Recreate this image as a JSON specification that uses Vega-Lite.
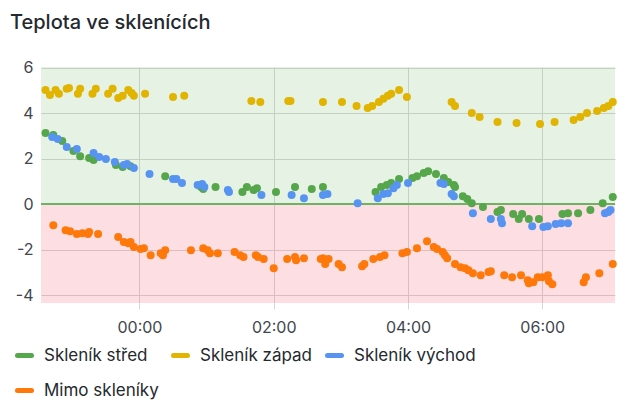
{
  "$schema": "https://vega.github.io/schema/vega-lite/v6.json",
  "width": 574,
  "height": 236,
  "autosize": {"type": "none"},
  "padding": {"left": 41, "top": 67, "right": 3, "bottom": 100},
  "background": "#ffffff",
  "title": {"text": "Teplota ve sklenících", "anchor": "start", "frame": "group", "dx": -31, "offset": 27, "font": "Inter", "fontSize": 20, "fontWeight": 500, "color": "#24292e"},
  "config": {
    "view": {"stroke": null},
    "axis": {"labelFont": "Inter", "labelFontSize": 16, "labelColor": "#41464d", "gridColor": "#d6d6d6", "domain": false, "titleFont": "Inter"},
    "legend": {"labelFont": "Inter", "labelFontSize": 17, "labelColor": "#24292e"}
  },
  "layer": [
    {
      "data": {"values": [{"zone": "nad nulou", "lo": 0, "hi": 6.03}, {"zone": "pod nulou", "lo": -4.35, "hi": 0}]},
      "mark": {"type": "rect", "opacity": 0.18},
      "encoding": {
        "y": {"field": "lo", "type": "quantitative", "scale": {"domain": [-4.35, 6.03], "nice": false, "zero": false}, "axis": {"values": [-4, -2, 0, 2, 4, 6], "title": null, "ticks": false, "labelPadding": 8, "labelExpr": "replace(datum.label, '\u2212', '-')"}},
        "y2": {"field": "hi"},
        "fill": {"field": "zone", "type": "nominal", "scale": {"domain": ["nad nulou", "pod nulou"], "range": ["#73BF69", "#F2495C"]}, "legend": null}
      }
    },
    {
      "data": {"values": [{"v": 0}]},
      "mark": {"type": "rule", "color": "#6fb263", "strokeWidth": 2},
      "encoding": {"y": {"field": "v", "type": "quantitative"}}
    },
    {
      "data": {"values": [
        {"t":"2024-03-10T22:36","s":"Skleník západ","v":5.02},
        {"t":"2024-03-10T22:40","s":"Skleník západ","v":4.80},
        {"t":"2024-03-10T22:45","s":"Skleník západ","v":5.02},
        {"t":"2024-03-10T22:48","s":"Skleník západ","v":4.85},
        {"t":"2024-03-10T22:55","s":"Skleník západ","v":5.07},
        {"t":"2024-03-10T22:57","s":"Skleník západ","v":5.11},
        {"t":"2024-03-10T23:05","s":"Skleník západ","v":4.85},
        {"t":"2024-03-10T23:07","s":"Skleník západ","v":5.07},
        {"t":"2024-03-10T23:18","s":"Skleník západ","v":4.85},
        {"t":"2024-03-10T23:21","s":"Skleník západ","v":5.07},
        {"t":"2024-03-10T23:32","s":"Skleník západ","v":4.85},
        {"t":"2024-03-10T23:36","s":"Skleník západ","v":5.07},
        {"t":"2024-03-10T23:41","s":"Skleník západ","v":4.67},
        {"t":"2024-03-10T23:45","s":"Skleník západ","v":4.76},
        {"t":"2024-03-10T23:50","s":"Skleník západ","v":5.02},
        {"t":"2024-03-10T23:53","s":"Skleník západ","v":4.89},
        {"t":"2024-03-10T23:55","s":"Skleník západ","v":4.76},
        {"t":"2024-03-11T00:05","s":"Skleník západ","v":4.85},
        {"t":"2024-03-11T00:30","s":"Skleník západ","v":4.71},
        {"t":"2024-03-11T00:40","s":"Skleník západ","v":4.76},
        {"t":"2024-03-11T01:40","s":"Skleník západ","v":4.54},
        {"t":"2024-03-11T01:48","s":"Skleník západ","v":4.49},
        {"t":"2024-03-11T02:13","s":"Skleník západ","v":4.54},
        {"t":"2024-03-11T02:15","s":"Skleník západ","v":4.54},
        {"t":"2024-03-11T02:44","s":"Skleník západ","v":4.49},
        {"t":"2024-03-11T03:01","s":"Skleník západ","v":4.49},
        {"t":"2024-03-11T03:14","s":"Skleník západ","v":4.32},
        {"t":"2024-03-11T03:24","s":"Skleník západ","v":4.23},
        {"t":"2024-03-11T03:28","s":"Skleník západ","v":4.32},
        {"t":"2024-03-11T03:34","s":"Skleník západ","v":4.49},
        {"t":"2024-03-11T03:38","s":"Skleník západ","v":4.63},
        {"t":"2024-03-11T03:42","s":"Skleník západ","v":4.76},
        {"t":"2024-03-11T03:45","s":"Skleník západ","v":4.85},
        {"t":"2024-03-11T03:52","s":"Skleník západ","v":5.02},
        {"t":"2024-03-11T03:59","s":"Skleník západ","v":4.71},
        {"t":"2024-03-11T04:39","s":"Skleník západ","v":4.49},
        {"t":"2024-03-11T04:42","s":"Skleník západ","v":4.32},
        {"t":"2024-03-11T04:57","s":"Skleník západ","v":4.01},
        {"t":"2024-03-11T05:04","s":"Skleník západ","v":3.83},
        {"t":"2024-03-11T05:20","s":"Skleník západ","v":3.61},
        {"t":"2024-03-11T05:37","s":"Skleník západ","v":3.57},
        {"t":"2024-03-11T05:58","s":"Skleník západ","v":3.52},
        {"t":"2024-03-11T06:11","s":"Skleník západ","v":3.61},
        {"t":"2024-03-11T06:28","s":"Skleník západ","v":3.70},
        {"t":"2024-03-11T06:34","s":"Skleník západ","v":3.83},
        {"t":"2024-03-11T06:40","s":"Skleník západ","v":4.01},
        {"t":"2024-03-11T06:49","s":"Skleník západ","v":4.10},
        {"t":"2024-03-11T06:55","s":"Skleník západ","v":4.23},
        {"t":"2024-03-11T06:59","s":"Skleník západ","v":4.32},
        {"t":"2024-03-11T07:03","s":"Skleník západ","v":4.49},

        {"t":"2024-03-10T22:36","s":"Skleník střed","v":3.13},
        {"t":"2024-03-10T22:43","s":"Skleník střed","v":3.04},
        {"t":"2024-03-10T22:51","s":"Skleník střed","v":2.78},
        {"t":"2024-03-10T23:01","s":"Skleník střed","v":2.33},
        {"t":"2024-03-10T23:07","s":"Skleník střed","v":2.11},
        {"t":"2024-03-10T23:15","s":"Skleník střed","v":2.03},
        {"t":"2024-03-10T23:19","s":"Skleník střed","v":1.94},
        {"t":"2024-03-10T23:39","s":"Skleník střed","v":1.72},
        {"t":"2024-03-10T23:45","s":"Skleník střed","v":1.63},
        {"t":"2024-03-10T23:52","s":"Skleník střed","v":1.67},
        {"t":"2024-03-11T00:23","s":"Skleník střed","v":1.23},
        {"t":"2024-03-11T00:55","s":"Skleník střed","v":0.75},
        {"t":"2024-03-11T00:57","s":"Skleník střed","v":0.66},
        {"t":"2024-03-11T01:08","s":"Skleník střed","v":0.75},
        {"t":"2024-03-11T01:32","s":"Skleník střed","v":0.53},
        {"t":"2024-03-11T01:36","s":"Skleník střed","v":0.75},
        {"t":"2024-03-11T01:42","s":"Skleník střed","v":0.62},
        {"t":"2024-03-11T01:45","s":"Skleník střed","v":0.70},
        {"t":"2024-03-11T02:02","s":"Skleník střed","v":0.53},
        {"t":"2024-03-11T02:19","s":"Skleník střed","v":0.75},
        {"t":"2024-03-11T02:34","s":"Skleník střed","v":0.66},
        {"t":"2024-03-11T02:44","s":"Skleník střed","v":0.75},
        {"t":"2024-03-11T03:31","s":"Skleník střed","v":0.53},
        {"t":"2024-03-11T03:36","s":"Skleník střed","v":0.75},
        {"t":"2024-03-11T03:41","s":"Skleník střed","v":0.84},
        {"t":"2024-03-11T03:45","s":"Skleník střed","v":0.93},
        {"t":"2024-03-11T03:52","s":"Skleník střed","v":1.10},
        {"t":"2024-03-11T04:04","s":"Skleník střed","v":1.15},
        {"t":"2024-03-11T04:08","s":"Skleník střed","v":1.23},
        {"t":"2024-03-11T04:14","s":"Skleník střed","v":1.37},
        {"t":"2024-03-11T04:18","s":"Skleník střed","v":1.45},
        {"t":"2024-03-11T04:25","s":"Skleník střed","v":1.32},
        {"t":"2024-03-11T04:32","s":"Skleník střed","v":1.15},
        {"t":"2024-03-11T04:36","s":"Skleník střed","v":0.97},
        {"t":"2024-03-11T04:41","s":"Skleník střed","v":0.84},
        {"t":"2024-03-11T04:42","s":"Skleník střed","v":0.75},
        {"t":"2024-03-11T04:49","s":"Skleník střed","v":0.35},
        {"t":"2024-03-11T04:53","s":"Skleník střed","v":0.22},
        {"t":"2024-03-11T04:57","s":"Skleník střed","v":0.04},
        {"t":"2024-03-11T05:07","s":"Skleník střed","v":-0.13},
        {"t":"2024-03-11T05:20","s":"Skleník střed","v":-0.35},
        {"t":"2024-03-11T05:23","s":"Skleník střed","v":-0.26},
        {"t":"2024-03-11T05:34","s":"Skleník střed","v":-0.44},
        {"t":"2024-03-11T05:39","s":"Skleník střed","v":-0.66},
        {"t":"2024-03-11T05:42","s":"Skleník střed","v":-0.44},
        {"t":"2024-03-11T05:48","s":"Skleník střed","v":-0.66},
        {"t":"2024-03-11T05:57","s":"Skleník střed","v":-0.66},
        {"t":"2024-03-11T06:18","s":"Skleník střed","v":-0.44},
        {"t":"2024-03-11T06:23","s":"Skleník střed","v":-0.40},
        {"t":"2024-03-11T06:32","s":"Skleník střed","v":-0.40},
        {"t":"2024-03-11T06:43","s":"Skleník střed","v":-0.26},
        {"t":"2024-03-11T06:54","s":"Skleník střed","v":0.04},
        {"t":"2024-03-11T07:03","s":"Skleník střed","v":0.31},

        {"t":"2024-03-10T22:42","s":"Skleník východ","v":2.95},
        {"t":"2024-03-10T22:47","s":"Skleník východ","v":2.86},
        {"t":"2024-03-10T22:55","s":"Skleník východ","v":2.51},
        {"t":"2024-03-10T23:04","s":"Skleník východ","v":2.42},
        {"t":"2024-03-10T23:19","s":"Skleník východ","v":2.25},
        {"t":"2024-03-10T23:24","s":"Skleník východ","v":2.07},
        {"t":"2024-03-10T23:30","s":"Skleník východ","v":1.98},
        {"t":"2024-03-10T23:38","s":"Skleník východ","v":1.85},
        {"t":"2024-03-10T23:46","s":"Skleník východ","v":1.72},
        {"t":"2024-03-10T23:49","s":"Skleník východ","v":1.76},
        {"t":"2024-03-10T23:55","s":"Skleník východ","v":1.59},
        {"t":"2024-03-11T00:09","s":"Skleník východ","v":1.32},
        {"t":"2024-03-11T00:30","s":"Skleník východ","v":1.10},
        {"t":"2024-03-11T00:33","s":"Skleník východ","v":1.10},
        {"t":"2024-03-11T00:38","s":"Skleník východ","v":0.93},
        {"t":"2024-03-11T00:52","s":"Skleník východ","v":0.84},
        {"t":"2024-03-11T00:56","s":"Skleník východ","v":0.88},
        {"t":"2024-03-11T00:58","s":"Skleník východ","v":0.75},
        {"t":"2024-03-11T01:19","s":"Skleník východ","v":0.62},
        {"t":"2024-03-11T01:20","s":"Skleník východ","v":0.53},
        {"t":"2024-03-11T01:49","s":"Skleník východ","v":0.40},
        {"t":"2024-03-11T02:16","s":"Skleník východ","v":0.40},
        {"t":"2024-03-11T02:27","s":"Skleník východ","v":0.26},
        {"t":"2024-03-11T02:44","s":"Skleník východ","v":0.40},
        {"t":"2024-03-11T02:48","s":"Skleník východ","v":0.44},
        {"t":"2024-03-11T03:15","s":"Skleník východ","v":0.04},
        {"t":"2024-03-11T03:33","s":"Skleník východ","v":0.26},
        {"t":"2024-03-11T03:38","s":"Skleník východ","v":0.44},
        {"t":"2024-03-11T03:42","s":"Skleník východ","v":0.48},
        {"t":"2024-03-11T03:47","s":"Skleník východ","v":0.70},
        {"t":"2024-03-11T03:50","s":"Skleník východ","v":0.84},
        {"t":"2024-03-11T04:00","s":"Skleník východ","v":0.93},
        {"t":"2024-03-11T04:29","s":"Skleník východ","v":0.93},
        {"t":"2024-03-11T04:32","s":"Skleník východ","v":0.88},
        {"t":"2024-03-11T04:39","s":"Skleník východ","v":0.44},
        {"t":"2024-03-11T04:41","s":"Skleník východ","v":0.35},
        {"t":"2024-03-11T04:58","s":"Skleník východ","v":-0.40},
        {"t":"2024-03-11T05:14","s":"Skleník východ","v":-0.66},
        {"t":"2024-03-11T05:23","s":"Skleník východ","v":-0.66},
        {"t":"2024-03-11T05:24","s":"Skleník východ","v":-0.84},
        {"t":"2024-03-11T05:51","s":"Skleník východ","v":-0.97},
        {"t":"2024-03-11T06:01","s":"Skleník východ","v":-1.01},
        {"t":"2024-03-11T06:05","s":"Skleník východ","v":-0.97},
        {"t":"2024-03-11T06:12","s":"Skleník východ","v":-0.88},
        {"t":"2024-03-11T06:17","s":"Skleník východ","v":-0.84},
        {"t":"2024-03-11T06:23","s":"Skleník východ","v":-0.84},
        {"t":"2024-03-11T06:56","s":"Skleník východ","v":-0.40},
        {"t":"2024-03-11T06:59","s":"Skleník východ","v":-0.35},
        {"t":"2024-03-11T07:01","s":"Skleník východ","v":-0.26},

        {"t":"2024-03-10T22:43","s":"Mimo skleníky","v":-0.93},
        {"t":"2024-03-10T22:54","s":"Mimo skleníky","v":-1.15},
        {"t":"2024-03-10T22:58","s":"Mimo skleníky","v":-1.19},
        {"t":"2024-03-10T23:04","s":"Mimo skleníky","v":-1.32},
        {"t":"2024-03-10T23:09","s":"Mimo skleníky","v":-1.28},
        {"t":"2024-03-10T23:14","s":"Mimo skleníky","v":-1.32},
        {"t":"2024-03-10T23:15","s":"Mimo skleníky","v":-1.23},
        {"t":"2024-03-10T23:23","s":"Mimo skleníky","v":-1.32},
        {"t":"2024-03-10T23:41","s":"Mimo skleníky","v":-1.45},
        {"t":"2024-03-10T23:46","s":"Mimo skleníky","v":-1.67},
        {"t":"2024-03-10T23:50","s":"Mimo skleníky","v":-1.72},
        {"t":"2024-03-10T23:52","s":"Mimo skleníky","v":-1.67},
        {"t":"2024-03-10T23:55","s":"Mimo skleníky","v":-1.89},
        {"t":"2024-03-11T00:01","s":"Mimo skleníky","v":-1.98},
        {"t":"2024-03-11T00:04","s":"Mimo skleníky","v":-1.94},
        {"t":"2024-03-11T00:10","s":"Mimo skleníky","v":-2.25},
        {"t":"2024-03-11T00:19","s":"Mimo skleníky","v":-2.16},
        {"t":"2024-03-11T00:21","s":"Mimo skleníky","v":-2.25},
        {"t":"2024-03-11T00:23","s":"Mimo skleníky","v":-2.03},
        {"t":"2024-03-11T00:46","s":"Mimo skleníky","v":-2.03},
        {"t":"2024-03-11T00:57","s":"Mimo skleníky","v":-1.94},
        {"t":"2024-03-11T01:01","s":"Mimo skleníky","v":-2.03},
        {"t":"2024-03-11T01:03","s":"Mimo skleníky","v":-2.16},
        {"t":"2024-03-11T01:10","s":"Mimo skleníky","v":-2.16},
        {"t":"2024-03-11T01:25","s":"Mimo skleníky","v":-2.11},
        {"t":"2024-03-11T01:30","s":"Mimo skleníky","v":-2.25},
        {"t":"2024-03-11T01:33","s":"Mimo skleníky","v":-2.33},
        {"t":"2024-03-11T01:44","s":"Mimo skleníky","v":-2.25},
        {"t":"2024-03-11T01:46","s":"Mimo skleníky","v":-2.33},
        {"t":"2024-03-11T01:51","s":"Mimo skleníky","v":-2.42},
        {"t":"2024-03-11T02:00","s":"Mimo skleníky","v":-2.82},
        {"t":"2024-03-11T02:12","s":"Mimo skleníky","v":-2.42},
        {"t":"2024-03-11T02:19","s":"Mimo skleníky","v":-2.33},
        {"t":"2024-03-11T02:20","s":"Mimo skleníky","v":-2.47},
        {"t":"2024-03-11T02:27","s":"Mimo skleníky","v":-2.38},
        {"t":"2024-03-11T02:42","s":"Mimo skleníky","v":-2.42},
        {"t":"2024-03-11T02:44","s":"Mimo skleníky","v":-2.38},
        {"t":"2024-03-11T02:46","s":"Mimo skleníky","v":-2.64},
        {"t":"2024-03-11T02:49","s":"Mimo skleníky","v":-2.42},
        {"t":"2024-03-11T02:58","s":"Mimo skleníky","v":-2.64},
        {"t":"2024-03-11T03:01","s":"Mimo skleníky","v":-2.78},
        {"t":"2024-03-11T03:19","s":"Mimo skleníky","v":-2.73},
        {"t":"2024-03-11T03:21","s":"Mimo skleníky","v":-2.64},
        {"t":"2024-03-11T03:29","s":"Mimo skleníky","v":-2.42},
        {"t":"2024-03-11T03:35","s":"Mimo skleníky","v":-2.33},
        {"t":"2024-03-11T03:39","s":"Mimo skleníky","v":-2.25},
        {"t":"2024-03-11T03:55","s":"Mimo skleníky","v":-2.16},
        {"t":"2024-03-11T03:59","s":"Mimo skleníky","v":-2.11},
        {"t":"2024-03-11T04:08","s":"Mimo skleníky","v":-1.94},
        {"t":"2024-03-11T04:17","s":"Mimo skleníky","v":-1.63},
        {"t":"2024-03-11T04:23","s":"Mimo skleníky","v":-1.89},
        {"t":"2024-03-11T04:26","s":"Mimo skleníky","v":-1.98},
        {"t":"2024-03-11T04:31","s":"Mimo skleníky","v":-2.11},
        {"t":"2024-03-11T04:33","s":"Mimo skleníky","v":-2.25},
        {"t":"2024-03-11T04:35","s":"Mimo skleníky","v":-2.38},
        {"t":"2024-03-11T04:42","s":"Mimo skleníky","v":-2.64},
        {"t":"2024-03-11T04:47","s":"Mimo skleníky","v":-2.78},
        {"t":"2024-03-11T04:51","s":"Mimo skleníky","v":-2.82},
        {"t":"2024-03-11T04:54","s":"Mimo skleníky","v":-2.91},
        {"t":"2024-03-11T04:58","s":"Mimo skleníky","v":-3.04},
        {"t":"2024-03-11T05:05","s":"Mimo skleníky","v":-3.13},
        {"t":"2024-03-11T05:12","s":"Mimo skleníky","v":-2.99},
        {"t":"2024-03-11T05:14","s":"Mimo skleníky","v":-2.95},
        {"t":"2024-03-11T05:26","s":"Mimo skleníky","v":-3.13},
        {"t":"2024-03-11T05:33","s":"Mimo skleníky","v":-3.22},
        {"t":"2024-03-11T05:41","s":"Mimo skleníky","v":-3.13},
        {"t":"2024-03-11T05:47","s":"Mimo skleníky","v":-3.35},
        {"t":"2024-03-11T05:48","s":"Mimo skleníky","v":-3.48},
        {"t":"2024-03-11T05:52","s":"Mimo skleníky","v":-3.44},
        {"t":"2024-03-11T05:56","s":"Mimo skleníky","v":-3.22},
        {"t":"2024-03-11T06:00","s":"Mimo skleníky","v":-3.22},
        {"t":"2024-03-11T06:05","s":"Mimo skleníky","v":-3.13},
        {"t":"2024-03-11T06:06","s":"Mimo skleníky","v":-3.39},
        {"t":"2024-03-11T06:09","s":"Mimo skleníky","v":-3.52},
        {"t":"2024-03-11T06:37","s":"Mimo skleníky","v":-3.44},
        {"t":"2024-03-11T06:39","s":"Mimo skleníky","v":-3.22},
        {"t":"2024-03-11T06:51","s":"Mimo skleníky","v":-3.04},
        {"t":"2024-03-11T07:03","s":"Mimo skleníky","v":-2.64}
      ]},
      "mark": {"type": "point", "filled": true, "opacity": 1, "size": 64},
      "encoding": {
        "x": {"field": "t", "type": "temporal",
          "scale": {"domain": [{"year": 2024, "month": 3, "date": 10, "hours": 22, "minutes": 32}, {"year": 2024, "month": 3, "date": 11, "hours": 7, "minutes": 5}], "nice": false},
          "axis": {"format": "%H:%M", "values": [{"year": 2024, "month": 3, "date": 11, "hours": 0}, {"year": 2024, "month": 3, "date": 11, "hours": 2}, {"year": 2024, "month": 3, "date": 11, "hours": 4}, {"year": 2024, "month": 3, "date": 11, "hours": 6}], "title": null, "tickColor": "#d6d6d6", "tickSize": 6, "labelPadding": 10}},
        "y": {"field": "v", "type": "quantitative"},
        "color": {"field": "s", "type": "nominal",
          "scale": {"domain": ["Skleník střed", "Skleník západ", "Skleník východ", "Mimo skleníky"], "range": ["#56A64B", "#E0B400", "#5794F2", "#FF780A"]},
          "legend": {"title": null, "orient": "none", "legendX": -26, "legendY": 279, "direction": "horizontal", "columns": 3, "gridAlign": "none", "columnPadding": 4, "rowPadding": 14, "symbolType": "stroke", "symbolSize": 196, "symbolStrokeWidth": 5, "symbolOpacity": 1, "labelOffset": 10,
            "encode": {"symbols": {"update": {"stroke": {"scale": "color", "field": "value"}, "strokeCap": {"value": "round"}}}}}}
      }
    }
  ]
}
